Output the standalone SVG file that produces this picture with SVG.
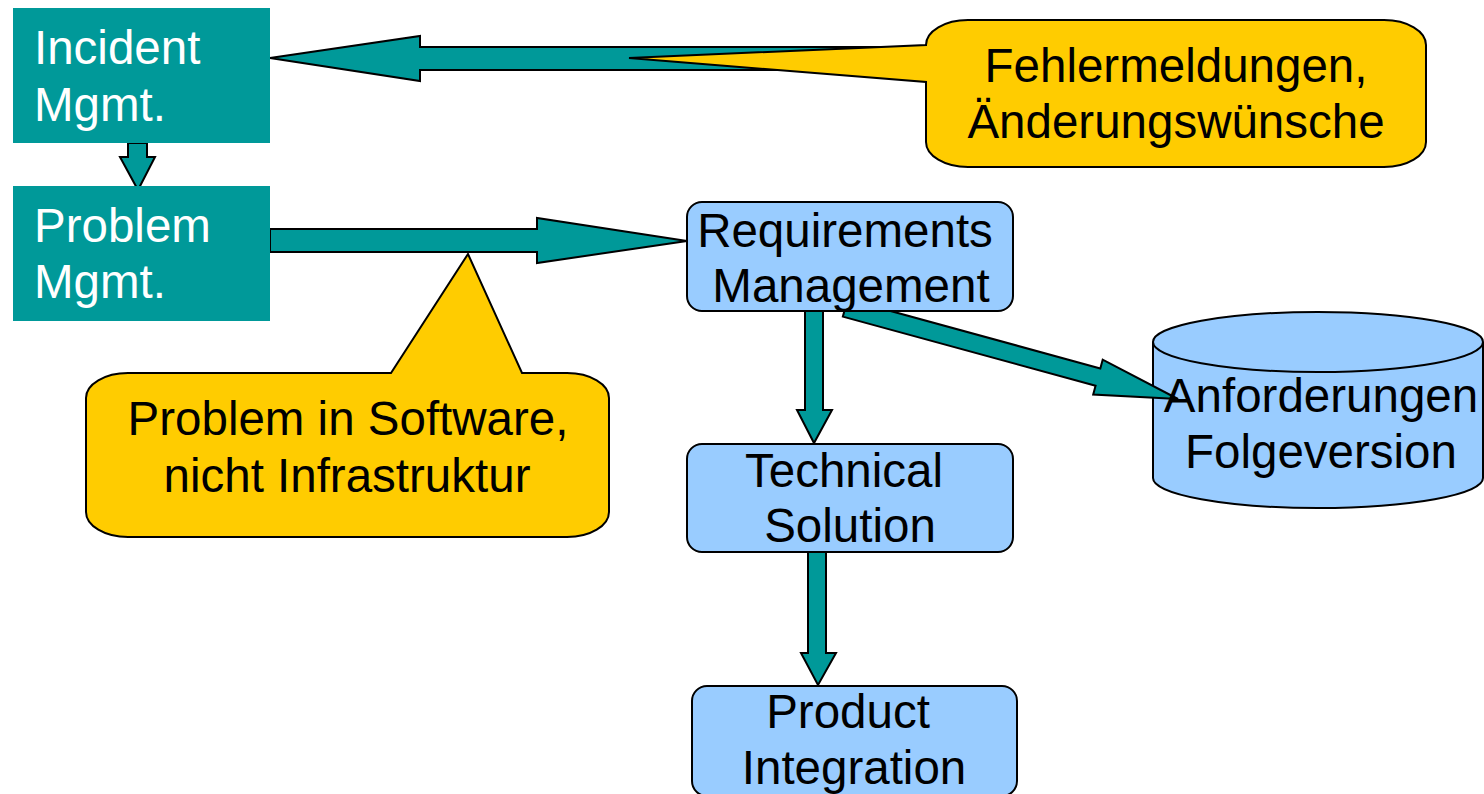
<svg xmlns="http://www.w3.org/2000/svg" width="1484" height="794" viewBox="0 0 1484 794">
  <style>
    .lbl { font-family: "Liberation Sans", Arial, sans-serif; font-size: 47.5px; }
    .white { fill: #ffffff; }
    .dark { fill: #000000; text-anchor: middle; }
    .teal { fill: #009999; }
    .arrow { fill: #009999; stroke: #000000; stroke-width: 2; stroke-linejoin: miter; }
    .proc { fill: #99CCFF; stroke: #000000; stroke-width: 2; }
    .note { fill: #FFCC00; stroke: #000000; stroke-width: 2; }
  </style>

  <rect width="1484" height="794" fill="#ffffff"/>

  <!-- storage cylinder sits beneath the arrow that points into it -->
  <g id="anforderungen-folgeversion">
    <path class="proc" d="M1153,342 V478 A165,30 0 0 0 1483,478 V342"/>
    <ellipse class="proc" cx="1318" cy="342" rx="165" ry="30"/>
  </g>

  <!-- block arrows -->
  <g id="connectors">
    <!-- callout feedback into incident management -->
    <polygon class="arrow" points="270,58 420,36 420,47 930,47 930,70 420,70 420,81"/>
    <!-- incident -> problem -->
    <polygon class="arrow" points="128,143 147,143 147,157 155,157 138,190 120,157 128,157"/>
    <!-- problem -> requirements -->
    <polygon class="arrow" points="270,229 537,229 537,218 687,241 537,263 537,252 270,252"/>
    <!-- requirements -> stored requirements -->
    <polygon class="arrow" transform="translate(1178,399) rotate(15.3)" points="-345,-9 -83,-9 -83,-18 0,0 -83,18 -83,9 -345,9"/>
    <!-- requirements -> technical solution -->
    <polygon class="arrow" points="805,311 823,311 823,410 832,410 814,443 797,410 805,410"/>
    <!-- technical solution -> product integration -->
    <polygon class="arrow" points="808,552 826,552 826,653 836,653 818,685 801,653 808,653"/>
  </g>

  <g id="anforderungen-folgeversion-label">
    <text class="lbl dark" x="1321" y="412">Anforderungen</text>
    <text class="lbl dark" x="1321" y="468">Folgeversion</text>
  </g>

  <g id="incident-mgmt">
    <rect class="teal" x="13" y="8" width="257" height="135"/>
    <text class="lbl white" x="34" y="64">Incident</text>
    <text class="lbl white" x="34" y="121">Mgmt.</text>
  </g>

  <g id="problem-mgmt">
    <rect class="teal" x="13" y="186" width="257" height="135"/>
    <text class="lbl white" x="34" y="242">Problem</text>
    <text class="lbl white" x="34" y="298">Mgmt.</text>
  </g>

  <g id="note-fehlermeldungen">
    <path class="note" d="M968,20 H1384 A42,25 0 0 1 1426,45 V142 A42,25 0 0 1 1384,167 H968 A42,25 0 0 1 926,142 V82 L629,58 L926,45 A42,25 0 0 1 968,20 Z"/>
    <text class="lbl dark" x="1176" y="82">Fehlermeldungen,</text>
    <text class="lbl dark" x="1176" y="138">Änderungswünsche</text>
  </g>

  <g id="note-problem-software">
    <path class="note" d="M128,373 H391 L468,254 L522,373 H567 A42,25 0 0 1 609,398 V512 A42,25 0 0 1 567,537 H128 A42,25 0 0 1 86,512 V398 A42,25 0 0 1 128,373 Z"/>
    <text class="lbl dark" x="348" y="435">Problem in Software,</text>
    <text class="lbl dark" x="347" y="492">nicht Infrastruktur</text>
  </g>

  <g id="requirements-mgmt">
    <rect class="proc" x="687" y="202" width="326" height="109" rx="15" ry="15"/>
    <text class="lbl dark" x="845" y="247">Requirements</text>
    <text class="lbl dark" x="851" y="302">Management</text>
  </g>

  <g id="technical-solution">
    <rect class="proc" x="687" y="444" width="326" height="108" rx="15" ry="15"/>
    <text class="lbl dark" x="844" y="487">Technical</text>
    <text class="lbl dark" x="850" y="542">Solution</text>
  </g>

  <g id="product-integration">
    <rect class="proc" x="692" y="686" width="325" height="110" rx="15" ry="15"/>
    <text class="lbl dark" x="848" y="728">Product</text>
    <text class="lbl dark" x="854" y="784">Integration</text>
  </g>
</svg>
